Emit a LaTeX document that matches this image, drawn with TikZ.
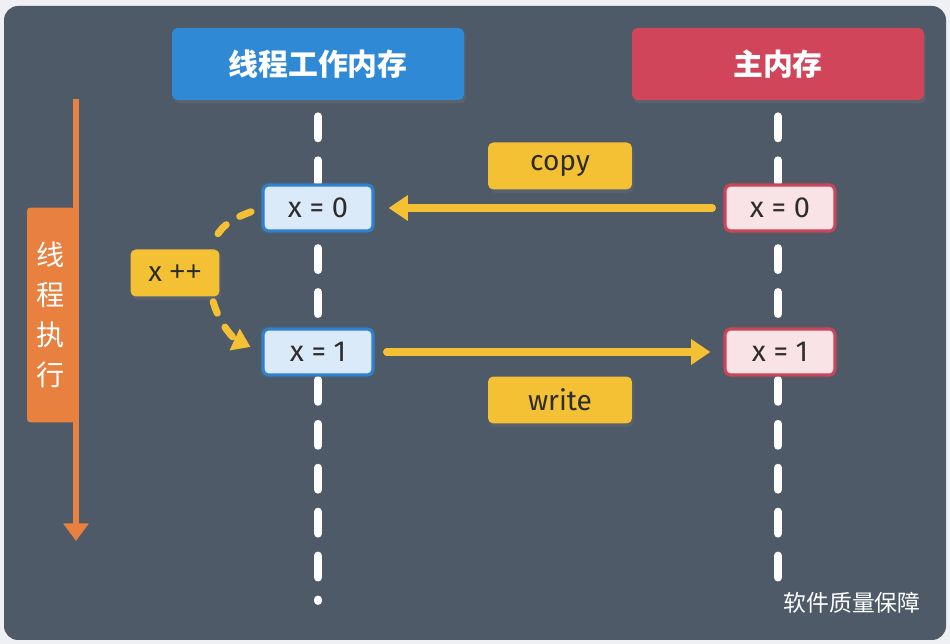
\documentclass[tikz,border=0pt]{standalone}
\usepackage{fontspec}
\setmainfont{Fira Sans}
\newfontfamily\cjk{Noto Sans CJK SC}
\newfontfamily\plusfont{Noto Sans}
\definecolor{pagebg}{RGB}{238, 240, 244}
\definecolor{panel}{RGB}{78, 90, 104}
\definecolor{workblue}{RGB}{47, 137, 213}
\definecolor{cellblue}{RGB}{219, 234, 248}
\definecolor{edgeblue}{RGB}{48, 128, 204}
\definecolor{mainred}{RGB}{208, 69, 90}
\definecolor{cellred}{RGB}{250, 227, 231}
\definecolor{edgered}{RGB}{201, 69, 88}
\definecolor{tagyellow}{RGB}{244, 192, 52}
\definecolor{runorange}{RGB}{232, 128, 63}
\definecolor{ink}{RGB}{45, 45, 45}
\usetikzlibrary{arrows.meta, positioning, shadows}

\begin{document}
\begin{tikzpicture}[
        x=0.02cm, y=-0.02cm,
        head/.style={rectangle, rounded corners=3pt, minimum width=5.84cm, minimum height=1.44cm, text=white, font=\cjk\bfseries\fontsize{17}{20}\selectfont, drop shadow={opacity=0.25, shadow xshift=1pt, shadow yshift=-2pt}},
        cell/.style={rectangle, rounded corners=3pt, line width=1.8pt, minimum width=2.2cm, minimum height=0.92cm, text=ink, font=\fontsize{16.5}{19}\selectfont},
        tag/.style={rectangle, rounded corners=3pt, fill=tagyellow, minimum width=2.88cm, minimum height=0.94cm, text=ink, font=\fontsize{16}{19}\selectfont, drop shadow={opacity=0.2, shadow xshift=1pt, shadow yshift=-2pt}},
        lifeline/.style={white, line width=4.5pt, line cap=round, dash pattern=on 12.5pt off 12.5pt},
        flow/.style={tagyellow, line width=4pt, line cap=round, -{Triangle[length=11pt, width=14pt]}},
        incr/.style={tagyellow, line width=4pt, line cap=round, dash pattern=on 7pt off 9pt}
    ]
        \useasboundingbox (0,0) rectangle (950,644);
        \fill[pagebg] (0,0) rectangle (950,644);
        \fill[panel, rounded corners=8pt] (4,6) rectangle (946,640);

        % Column heads
        \node[head, fill=workblue] (work) at (318,64) {线程工作内存};
        \node[head, fill=mainred] (main) at (778,64) {主内存};

        % Lifelines
        \coordinate (workend) at (318,601);
        \coordinate (mainend) at (778,583);
        \draw[lifeline] (work.south) ++(0,16) -- (workend);
        \draw[lifeline] (main.south) ++(0,16) -- (mainend);

        % Time axis
        \coordinate (runtop) at (76,99);
        \coordinate (runend) at (76,541);
        \node[rectangle, rounded corners=2pt, fill=runorange, minimum width=0.96cm, minimum height=4.3cm, text=white, align=center, font=\cjk\fontsize{16}{22.7}\selectfont] (run) at (51,315) {线\\程\\执\\行};
        \draw[runorange, line width=3.4pt, -{Triangle[length=10pt, width=14pt]}] (runtop) -- (runend);

        % Values in the two memories
        \node[cell, draw=edgeblue, fill=cellblue] (w0) at (318,208) {x = 0};
        \node[cell, draw=edgeblue, fill=cellblue] (w1) at (318,352) {x = 1};
        \node[cell, draw=edgered, fill=cellred] (m0) at (780,208) {x = 0};
        \node[cell, draw=edgered, fill=cellred] (m1) at (780,352) {x = 1};

        % Copy and write back
        \node[tag] (copy) at (560,166) {copy};
        \node[tag] (write) at (560,400) {write};
        \draw[flow, shorten <=0.22cm, shorten >=0.28cm] (m0) -- (w0);
        \draw[flow, shorten <=0.24cm, shorten >=0.26cm] (w1) -- (m1);

        % Increment
        \node[tag, minimum width=1.78cm] (inc) at (175,273) {x {\plusfont ++}};
        \draw[incr, shorten <=0.22cm, shorten >=0.1cm] (w0.west) to[out=200, in=75] ([xshift=21]inc.north);
        \draw[incr, shorten <=0.1cm, shorten >=0.24cm, -{Triangle[length=10pt, width=13pt]}] ([xshift=21]inc.south) to[out=-75, in=155] (w1.west);

        % Watermark
        \node[text=white, font=\cjk\fontsize{13}{15}\selectfont] (mark) at (852,603) {软件质量保障};
    \end{tikzpicture}
\end{document}
